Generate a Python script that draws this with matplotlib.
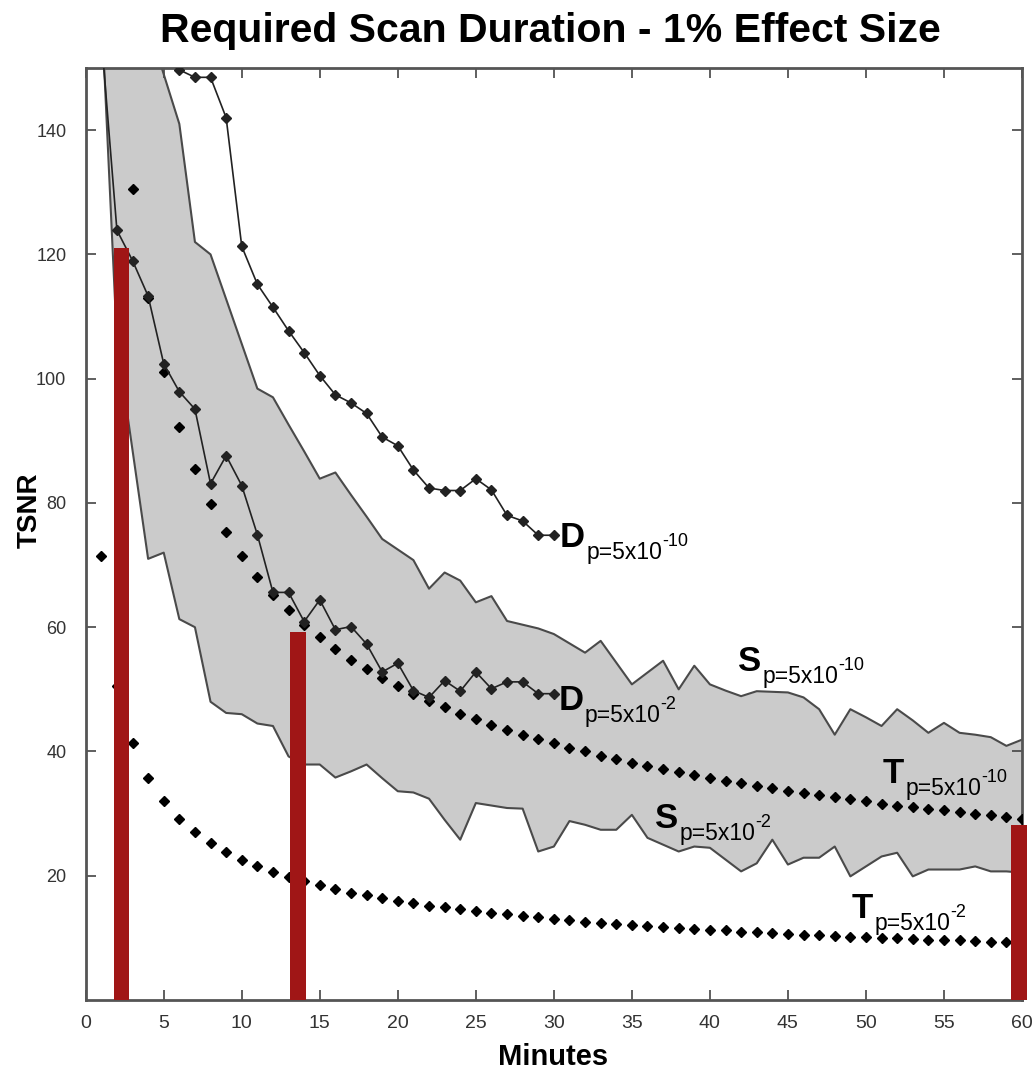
import numpy as np
import matplotlib
matplotlib.use('Agg')
from matplotlib import pyplot as plt
from matplotlib import transforms

# Scan time in minutes for every sampled point
minutes = np.arange(1, 61)

# Theoretical TSNR curves (markers only)
t_hi = [226.0, 159.8, 130.5, 113.0, 101.1, 92.3, 85.4, 79.9, 75.3, 71.5,
        68.1, 65.2, 62.7, 60.4, 58.4, 56.5, 54.8, 53.3, 51.8, 50.5,
        49.3, 48.2, 47.1, 46.1, 45.2, 44.3, 43.5, 42.7, 42.0, 41.3,
        40.6, 40.0, 39.3, 38.8, 38.2, 37.7, 37.2, 36.7, 36.2, 35.7,
        35.3, 34.9, 34.5, 34.1, 33.7, 33.3, 33.0, 32.6, 32.3, 32.0,
        31.6, 31.3, 31.0, 30.8, 30.5, 30.2, 29.9, 29.7, 29.4, 29.2]
t_lo = [71.5, 50.6, 41.3, 35.8, 32.0, 29.2, 27.0, 25.3, 23.8, 22.6,
        21.6, 20.6, 19.8, 19.1, 18.5, 17.9, 17.3, 16.9, 16.4, 16.0,
        15.6, 15.2, 14.9, 14.6, 14.3, 14.0, 13.8, 13.5, 13.3, 13.1,
        12.8, 12.6, 12.4, 12.3, 12.1, 11.9, 11.8, 11.6, 11.4, 11.3,
        11.2, 11.0, 10.9, 10.8, 10.7, 10.5, 10.4, 10.3, 10.2, 10.1,
        10.0, 9.9, 9.8, 9.7, 9.6, 9.6, 9.5, 9.4, 9.3, 9.2]

# Simulated band limits
s_hi = [175.0, 168.0, 162.0, 157.0, 149.0, 141.0, 122.0, 120.0, 112.8, 105.6,
        98.4, 97.0, 92.6, 88.3, 83.9, 84.9, 81.3, 77.8, 74.2, 72.5,
        70.8, 66.2, 68.8, 67.5, 64.0, 65.0, 61.0, 60.4, 59.8, 58.9,
        57.4, 55.9, 57.8, 54.3, 50.8, 52.7, 54.6, 50.0, 53.8, 50.8,
        49.8, 48.9, 49.7, 49.6, 49.5, 48.7, 46.8, 42.7, 46.8, 45.5,
        44.1, 46.8, 45.0, 43.0, 44.6, 43.0, 42.7, 42.3, 40.9, 41.9]
s_lo = [160.0, 106.0, 88.5, 71.0, 72.0, 61.3, 60.0, 48.0, 46.2, 46.0,
        44.5, 44.1, 39.2, 37.9, 37.9, 35.8, 36.8, 37.9, 35.7, 33.6,
        33.4, 32.4, 29.0, 25.8, 31.7, 31.3, 30.9, 30.8, 23.9, 24.7,
        28.8, 28.2, 27.4, 27.4, 29.8, 26.1, 25.0, 23.9, 24.7, 24.5,
        22.6, 20.7, 22.0, 25.8, 21.8, 22.9, 22.9, 24.7, 19.9, 21.5,
        23.1, 23.7, 19.9, 21.0, 21.0, 21.0, 21.5, 20.7, 20.7, 20.5]

# Measured data curves (first 30 minutes)
d_lo_min = np.arange(1, 31)
d_lo = [155.0, 123.9, 119.0, 113.3, 102.4, 97.9, 95.1, 83.1, 87.6, 82.8,
        74.9, 65.6, 65.6, 60.9, 64.4, 59.6, 60.1, 57.3, 52.8, 54.2,
        49.8, 48.7, 51.4, 49.7, 52.8, 50.1, 51.2, 51.2, 49.3, 49.3]
d_hi_min = np.arange(6, 31)
d_hi = [149.7, 148.5, 148.5, 142.0, 121.3, 115.2, 111.5, 107.7, 104.2, 100.5,
        97.4, 96.1, 94.4, 90.6, 89.2, 85.3, 82.4, 82.0, 82.0, 83.9,
        82.1, 78.0, 77.1, 74.8, 74.8]

# Highlight bars
bar_min = [2.3, 13.6, 59.8]
bar_tsnr = [121.0, 59.2, 28.2]

plt.rcParams['font.family'] = ['Liberation Sans', 'DejaVu Sans']

fig = plt.figure(figsize=(10.33, 10.71), dpi=100)
W, H = 1033, 1071
ax = fig.add_axes([85.7 / W, 1 - 1000 / H, (1022 - 85.7) / W, (1000 - 68) / H])

ax.fill_between(minutes, s_lo, s_hi, color='#cbcbcb', lw=0, zorder=1)
ax.plot(minutes, s_hi, color='#4a4a4a', lw=1.5, zorder=2)
ax.plot(minutes, s_lo, color='#4a4a4a', lw=1.5, zorder=2)

ax.plot(minutes, t_hi, ls='none', marker='D', ms=5.2, color='black', zorder=3)
ax.plot(minutes, t_lo, ls='none', marker='D', ms=5.2, color='black', zorder=3)
ax.plot(d_hi_min, d_hi, color='#222222', lw=1.2, marker='D', ms=4.6, zorder=3)
ax.plot(d_lo_min, d_lo, color='#222222', lw=1.2, marker='D', ms=4.6, zorder=3)

ax.bar(bar_min, bar_tsnr, width=1.0, color='#a01616', zorder=5, clip_on=False)

ax.set_xlim(0, 60)
ax.set_ylim(0, 150)


# Letter with a "p=5x10^exp" subscript, laid out piece by piece
def curve_label(x, y, letter, exp):
    rend = fig.canvas.get_renderer()
    t1 = ax.text(x, y, letter, fontsize=25, fontweight='bold',
                 ha='left', va='baseline', zorder=6)
    w1 = t1.get_window_extent(rend).width
    tr = transforms.offset_copy(ax.transData, fig=fig, x=w1 + 1, y=-12, units='dots')
    t2 = ax.text(x, y, 'p=5x10', fontsize=16.5, transform=tr,
                 ha='left', va='baseline', zorder=6)
    w2 = t2.get_window_extent(rend).width
    tr = transforms.offset_copy(ax.transData, fig=fig, x=w1 + w2 + 1, y=1, units='dots')
    ax.text(x, y, exp, fontsize=13, transform=tr,
            ha='left', va='baseline', zorder=6)


fig.canvas.draw()
curve_label(30.4, 72.9, 'D', '-10')
curve_label(30.3, 46.6, 'D', '-2')
curve_label(41.8, 52.9, 'S', '-10')
curve_label(36.5, 27.7, 'S', '-2')
curve_label(51.1, 35.0, 'T', '-10')
curve_label(49.1, 13.2, 'T', '-2')

ax.set_xticks(np.arange(0, 61, 5))
ax.set_yticks(np.arange(20, 141, 20))
ax.tick_params(direction='in', length=7, width=1.2, color='#444444',
               top=True, right=True, labelcolor='#333333')
ax.tick_params(axis='x', pad=11, labelsize=14)
ax.tick_params(axis='y', pad=14, labelsize=13)
for s in ax.spines.values():
    s.set_color('#555555')
    s.set_linewidth(2)

fig.text(550 / W, 1 - 42 / H, 'Required Scan Duration - 1% Effect Size',
         ha='center', va='baseline', fontsize=29.5, fontweight='bold')
fig.text(553 / W, 1 - 1065 / H, 'Minutes', ha='center', va='baseline',
         fontsize=21, fontweight='bold')
fig.text(30 / W, 1 - 510 / H, 'TSNR', ha='center', va='center', rotation=90,
         fontsize=20, fontweight='bold')

fig.savefig('out.png', dpi=100)
